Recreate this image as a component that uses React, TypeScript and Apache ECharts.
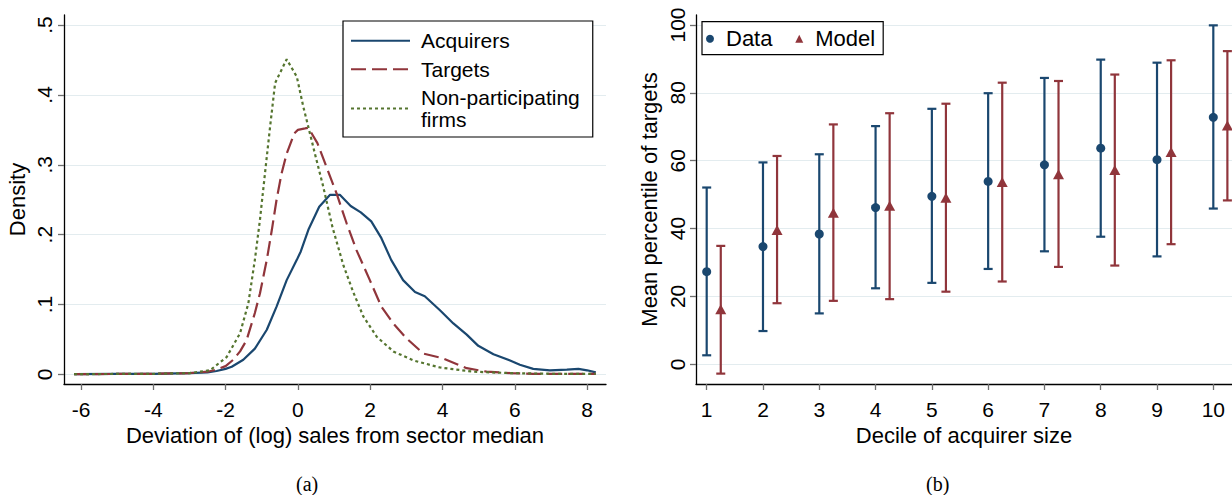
import React, { useEffect, useRef } from "react";
import * as echarts from "echarts";

// ---------- data ----------
const xTicksLeft = [-6, -4, -2, 0, 2, 4, 6, 8];
const yTicksLeft = [0, 0.1, 0.2, 0.3, 0.4, 0.5];
const yTickLabelsLeft = ["0", ".1", ".2", ".3", ".4", ".5"];

const acquirersDensity = [
  [-6.19, 0.0005], [-5, 0.001], [-4, 0.001], [-3, 0.002], [-2.5, 0.003],
  [-2.25, 0.005], [-2.0, 0.008], [-1.83, 0.011], [-1.51, 0.021], [-1.19, 0.037],
  [-0.86, 0.064], [-0.59, 0.097], [-0.31, 0.135], [-0.03, 0.164], [0.08, 0.176],
  [0.29, 0.207], [0.59, 0.24], [0.89, 0.257], [1.16, 0.257], [1.46, 0.241],
  [1.74, 0.232], [2.03, 0.219], [2.31, 0.195], [2.58, 0.164], [2.91, 0.135],
  [3.24, 0.118], [3.51, 0.112], [3.93, 0.092], [4.3, 0.073], [4.67, 0.057],
  [4.99, 0.041], [5.41, 0.029], [5.87, 0.02], [6.14, 0.014], [6.51, 0.008],
  [6.97, 0.006], [7.44, 0.007], [7.76, 0.008], [8.0, 0.006], [8.24, 0.003],
];

const targetsDensity = [
  [-6.19, 0.0005], [-4, 0.001], [-3, 0.002], [-2.5, 0.004], [-2.25, 0.007],
  [-2.0, 0.012], [-1.79, 0.021], [-1.6, 0.033], [-1.42, 0.049], [-1.19, 0.088],
  [-1.05, 0.116], [-0.86, 0.164], [-0.72, 0.207], [-0.59, 0.25], [-0.45, 0.288],
  [-0.31, 0.316], [-0.1, 0.345], [0.0, 0.35], [0.2, 0.352], [0.29, 0.353],
  [0.54, 0.331], [0.79, 0.297], [1.07, 0.259], [1.35, 0.216], [1.62, 0.178],
  [1.99, 0.135], [2.31, 0.097], [2.64, 0.073], [3.0, 0.052], [3.47, 0.03],
  [4.02, 0.023], [4.67, 0.009], [5.22, 0.004], [5.87, 0.002], [6.5, 0.001],
  [8.24, 0.001],
];

const nonParticipatingDensity = [
  [-6.19, 0.0005], [-4, 0.001], [-3, 0.002], [-2.43, 0.006], [-1.97, 0.025],
  [-1.6, 0.059], [-1.37, 0.102], [-1.19, 0.164], [-1.05, 0.221], [-0.91, 0.288],
  [-0.77, 0.354], [-0.63, 0.417], [-0.31, 0.451], [-0.03, 0.426], [0.15, 0.383],
  [0.29, 0.354], [0.47, 0.316], [0.7, 0.269], [0.96, 0.21], [1.26, 0.156],
  [1.53, 0.118], [1.81, 0.083], [2.18, 0.054], [2.64, 0.033], [3.2, 0.02],
  [3.93, 0.01], [4.85, 0.004], [5.87, 0.002], [7, 0.001], [8.24, 0.001],
];

const deciles = [1, 2, 3, 4, 5, 6, 7, 8, 9, 10];
const yTicksRight = [0, 20, 40, 60, 80, 100];
const dataMean = [27.3, 34.7, 38.4, 46.2, 49.5, 53.9, 58.8, 63.7, 60.3, 72.8];
const dataLow = [2.65, 9.8, 15.0, 22.4, 24.0, 28.1, 33.3, 37.6, 31.8, 45.9];
const dataHigh = [52.1, 59.5, 61.9, 70.2, 75.3, 79.9, 84.4, 89.8, 88.9, 99.9];
const modelMean = [16.2, 39.6, 44.7, 46.7, 49.1, 53.7, 56.0, 57.3, 62.6, 70.4];
const modelLow = [-2.75, 18.0, 18.7, 19.2, 21.4, 24.4, 28.7, 29.1, 35.4, 48.3];
const modelHigh = [34.9, 61.4, 70.7, 74.0, 76.8, 83.0, 83.5, 85.4, 89.6, 92.3];
const MODEL_OFFSET = 0.25;

// ---------- styles ----------
const FONT = "Liberation Sans";
const NAVY = "#1a476f";
const MAROON = "#90353b";
const GREEN = "#55752f";
const GRID_COLOR = "#e3ecef";

function axisCommon(ticks: number[], labelFmt?: (v: number) => string) {
  return {
    axisLine: { show: true, onZero: false, lineStyle: { color: "#000", width: 1.3 } },
    axisTick: { show: true, length: 6, customValues: ticks, lineStyle: { color: "#6e6e6e", width: 1.3 } },
    axisLabel: {
      show: true,
      customValues: ticks,
      fontSize: 21,
      color: "#000",
      fontFamily: FONT,
      formatter: labelFmt,
    },
    splitLine: { show: true, lineStyle: { color: GRID_COLOR, width: 1 } },
    nameLocation: "middle" as const,
    nameTextStyle: { fontSize: 22, color: "#000", fontFamily: FONT },
  };
}

function errorBarRender(color: string) {
  return (params: any, api: any) => {
    const x = api.value(0);
    const lo = api.value(1);
    const hi = api.value(2);
    const top = api.coord([x, hi]);
    const bot = api.coord([x, lo]);
    const hw = 4.5;
    const style = { stroke: color, lineWidth: 2.2 };
    return {
      type: "group",
      children: [
        { type: "line", shape: { x1: top[0], y1: top[1], x2: bot[0], y2: bot[1] }, style },
        { type: "line", shape: { x1: top[0] - hw, y1: top[1], x2: top[0] + hw, y2: top[1] }, style },
        { type: "line", shape: { x1: bot[0] - hw, y1: bot[1], x2: bot[0] + hw, y2: bot[1] }, style },
      ],
    };
  };
}

export default function App() {
  const ref = useRef<HTMLDivElement>(null);

  useEffect(() => {
    if (!ref.current) return;
    const chart = echarts.init(ref.current, undefined, { renderer: "svg" });

    const leftYFmt = (v: number) => {
      const i = yTicksLeft.findIndex((t) => Math.abs(t - v) < 1e-9);
      return i >= 0 ? yTickLabelsLeft[i] : "";
    };

    const dataBars = deciles.map((d, i) => [d, dataLow[i], dataHigh[i]]);
    const modelBars = deciles.map((d, i) => [d + MODEL_OFFSET, modelLow[i], modelHigh[i]]);
    const dataPts = deciles.map((d, i) => [d, dataMean[i]]);
    const modelPts = deciles.map((d, i) => [d + MODEL_OFFSET, modelMean[i]]);

    const option: any = {
      animation: false,
      backgroundColor: "#fff",
      textStyle: { fontFamily: FONT },
      grid: [
        { left: 64, top: 15, width: 542, height: 369, outerBoundsMode: "none", containLabel: false },
        { left: 696, top: 15, width: 536, height: 369, outerBoundsMode: "none", containLabel: false },
      ],
      xAxis: [
        {
          type: "value",
          gridIndex: 0,
          min: -6.47,
          max: 8.523,
          name: "Deviation of (log) sales from sector median",
          nameGap: 32,
          ...axisCommon(xTicksLeft),
          splitLine: { show: false },
          axisLabel: { ...axisCommon(xTicksLeft).axisLabel, margin: 15 },
        },
        {
          type: "value",
          gridIndex: 1,
          min: 0.81,
          max: 10.332,
          name: "Decile of acquirer size",
          nameGap: 32,
          ...axisCommon(deciles),
          splitLine: { show: false },
          axisLabel: { ...axisCommon(deciles).axisLabel, margin: 15 },
        },
      ],
      yAxis: [
        {
          type: "value",
          gridIndex: 0,
          min: -0.0136,
          max: 0.5143,
          name: "Density",
          nameGap: 35.5,
          nameRotate: 90,
          ...axisCommon(yTicksLeft, leftYFmt),
          axisLabel: { ...axisCommon(yTicksLeft, leftYFmt).axisLabel, rotate: 90, margin: 9 },
        },
        {
          type: "value",
          gridIndex: 1,
          min: -5.81,
          max: 102.95,
          name: "Mean percentile of targets",
          nameGap: 36,
          nameRotate: 90,
          ...axisCommon(yTicksRight),
          axisLabel: { ...axisCommon(yTicksRight).axisLabel, rotate: 90, margin: 8 },
        },
      ],
      legend: [
        {
          data: ["Acquirers", "Targets", "Non-participating firms"],
          orient: "vertical",
          left: 343,
          top: 21,
          padding: [9, 13, 7, 7],
          itemGap: 7,
          itemWidth: 59,
          itemHeight: 14,
          borderColor: "#000",
          borderWidth: 1.2,
          backgroundColor: "#fff",
          itemStyle: { opacity: 0 },
          lineStyle: { opacity: 1 },
          formatter: (name: string) =>
            name === "Non-participating firms" ? "Non-participating\nfirms" : name,
          textStyle: { fontSize: 21, lineHeight: 21.5, color: "#000", fontFamily: FONT, padding: [0, 0, 0, 6] },
        },
        {
          data: ["Data", "Model"],
          orient: "horizontal",
          left: 702,
          top: 21.7,
          padding: [6, 8, 5, 4],
          itemGap: 22.8,
          itemWidth: 8,
          itemHeight: 8,
          borderColor: "#000",
          borderWidth: 1.2,
          backgroundColor: "#fff",
          textStyle: { fontSize: 22, lineHeight: 22, color: "#000", fontFamily: FONT, padding: [0, 0, 0, 7] },
        },
      ],
      series: [
        {
          name: "Acquirers",
          type: "line",
          xAxisIndex: 0,
          yAxisIndex: 0,
          data: acquirersDensity,
          symbol: "none",
          showSymbol: false,
          lineStyle: { color: NAVY, width: 2.2, type: "solid" },
          itemStyle: { color: NAVY },
          z: 3,
        },
        {
          name: "Targets",
          type: "line",
          xAxisIndex: 0,
          yAxisIndex: 0,
          data: targetsDensity,
          symbol: "none",
          showSymbol: false,
          lineStyle: { color: MAROON, width: 2.2, type: [15, 6] },
          itemStyle: { color: MAROON },
          z: 3,
        },
        {
          name: "Non-participating firms",
          type: "line",
          xAxisIndex: 0,
          yAxisIndex: 0,
          data: nonParticipatingDensity,
          symbol: "none",
          showSymbol: false,
          lineStyle: { color: GREEN, width: 2.2, type: [3, 3] },
          itemStyle: { color: GREEN },
          z: 3,
        },
        {
          name: "DataBars",
          type: "custom",
          xAxisIndex: 1,
          yAxisIndex: 1,
          data: dataBars,
          encode: { x: 0, y: [1, 2] },
          renderItem: errorBarRender(NAVY),
          z: 2,
        },
        {
          name: "ModelBars",
          type: "custom",
          xAxisIndex: 1,
          yAxisIndex: 1,
          data: modelBars,
          encode: { x: 0, y: [1, 2] },
          renderItem: errorBarRender(MAROON),
          z: 2,
        },
        {
          name: "Data",
          type: "scatter",
          xAxisIndex: 1,
          yAxisIndex: 1,
          data: dataPts,
          symbol: "circle",
          symbolSize: 9,
          itemStyle: { color: NAVY, opacity: 1 },
          z: 4,
        },
        {
          name: "Model",
          type: "scatter",
          xAxisIndex: 1,
          yAxisIndex: 1,
          data: modelPts,
          symbol: "triangle",
          symbolSize: [11, 10],
          itemStyle: { color: MAROON, opacity: 1 },
          z: 4,
        },
      ],
      graphic: [
        {
          type: "text",
          left: 296,
          top: 474,
          style: { text: "(a)", fontSize: 20, fontFamily: "Liberation Serif", fill: "#000" },
        },
        {
          type: "text",
          left: 926,
          top: 474,
          style: { text: "(b)", fontSize: 20, fontFamily: "Liberation Serif", fill: "#000" },
        },
      ],
    };

    chart.setOption(option);
    return () => chart.dispose();
  }, []);

  return (
    <div
      ref={ref}
      style={{ position: "absolute", left: 0, top: 0, width: 1232, height: 495, background: "#fff" }}
    />
  );
}
